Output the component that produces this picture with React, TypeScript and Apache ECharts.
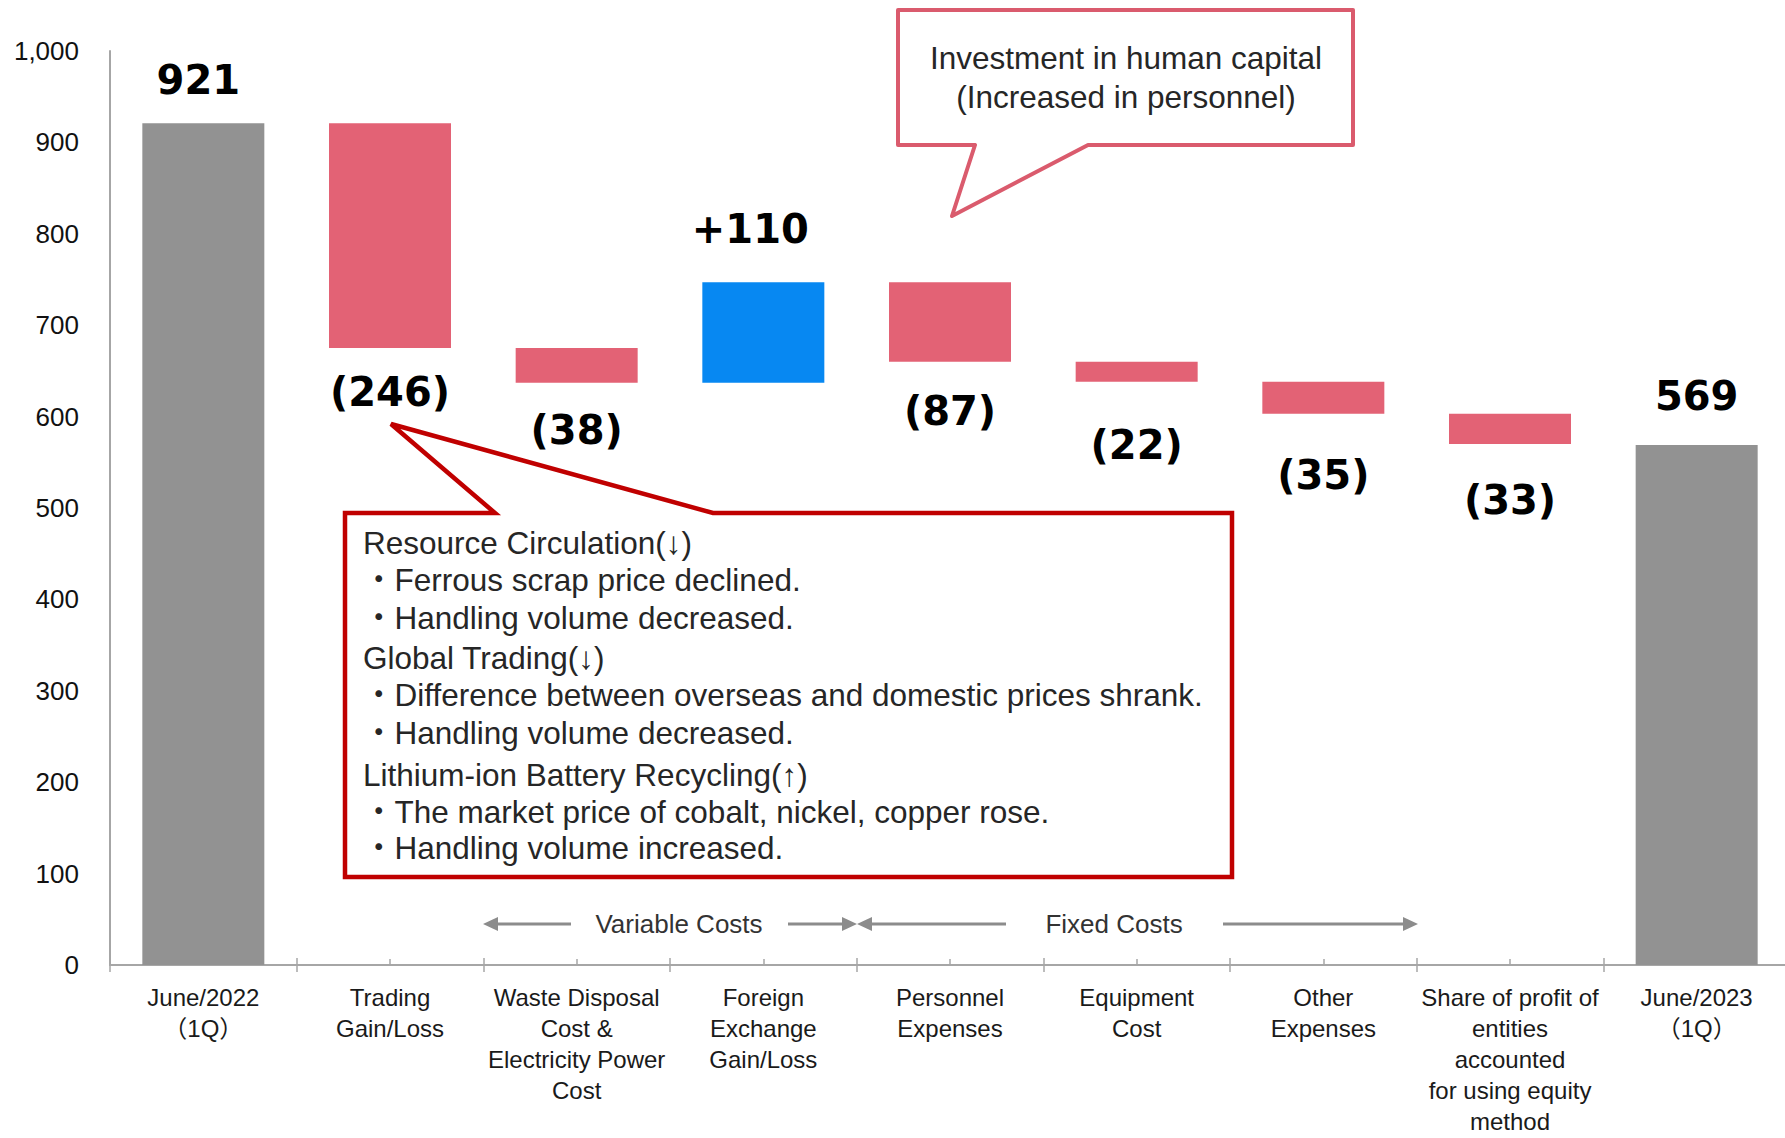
import React, { useEffect, useRef } from "react";
import * as echarts from "echarts";

// ---------- data ----------
const CATEGORIES = [
  "June/2022\n（1Q）",
  "Trading\nGain/Loss",
  "Waste Disposal\nCost &\nElectricity Power\nCost",
  "Foreign\nExchange\nGain/Loss",
  "Personnel\nExpenses",
  "Equipment\nCost",
  "Other\nExpenses",
  "Share of profit of\nentities\naccounted\nfor using equity\nmethod",
  "June/2023\n（1Q）",
];
const START_VALUE = 921;
const CHANGES = [-246, -38, 110, -87, -22, -35, -33];
const END_VALUE = 569;
const Y_TICKS = [0, 100, 200, 300, 400, 500, 600, 700, 800, 900, 1000];

const BOX_LINES = [
  "Resource Circulation(↓)",
  "・Ferrous scrap price declined.",
  "・Handling volume decreased.",
  "Global Trading(↓)",
  "・Difference between overseas and domestic prices shrank.",
  "・Handling volume decreased.",
  "Lithium-ion Battery Recycling(↑)",
  "・The market price of cobalt, nickel, copper rose.",
  "・Handling volume increased.",
];
const CALLOUT_LINES = ["Investment in human capital", "(Increased in personnel)"];

// ---------- styles ----------
const FONT = '"Liberation Sans", Arial, "Noto Sans CJK JP", sans-serif';
const BOLD_FONT = '"DejaVu Sans", Verdana, sans-serif';
const GREY = "#929292";
const RED = "#E36275";
const BLUE = "#0788F2";
const AXIS = "#a6a6a6";
const LABEL_DIST = [23, 24, 27, 33, 29, 43, 41, 36, 29];
const LABEL_DX = [-5, 0, 0, -13, 0, 0, 0, 0, 0];
const BOX_LINE_Y = [543, 580, 618, 658, 695, 733, 775, 812, 848];

function buildSeries() {
  const base: number[] = [0];
  const items: any[] = [];
  const mk = (i: number, v: number, color: string, pos: string, text: string) => ({
    value: v,
    itemStyle: { color },
    label: {
      show: true,
      position: pos,
      distance: LABEL_DIST[i],
      offset: [LABEL_DX[i], 0],
      formatter: text,
    },
  });
  items.push(mk(0, START_VALUE, GREY, "top", String(START_VALUE)));
  let run = START_VALUE;
  CHANGES.forEach((d, k) => {
    const i = k + 1;
    if (d < 0) {
      base.push(run + d);
      items.push(mk(i, -d, RED, "bottom", `(${-d})`));
    } else {
      base.push(run);
      items.push(mk(i, d, BLUE, "top", `+${d}`));
    }
    run += d;
  });
  base.push(0);
  items.push(mk(CATEGORIES.length - 1, END_VALUE, GREY, "top", String(END_VALUE)));
  return { base, items };
}

function arrowHead(tipX: number, y: number, dir: number) {
  return {
    type: "polygon",
    shape: { points: [[tipX, y], [tipX - dir * 15, y - 7], [tipX - dir * 15, y + 7]] },
    style: { fill: "#8c8c8c" },
    z: 100,
  };
}
function hLine(x1: number, x2: number, y: number) {
  return {
    type: "line",
    shape: { x1, y1: y, x2, y2: y },
    style: { stroke: "#8c8c8c", lineWidth: 3 },
    z: 100,
  };
}
function txt(text: string, x: number, y: number, size: number, align: string, color: string) {
  return {
    type: "text",
    x,
    y,
    z: 110,
    style: {
      text,
      fontSize: size,
      fontFamily: FONT,
      fill: color,
      align,
      verticalAlign: "middle",
      textAlign: align,
      textVerticalAlign: "middle",
    },
  };
}

export default function App() {
  const ref = useRef<HTMLDivElement>(null);
  useEffect(() => {
    if (!ref.current) return;
    const chart = echarts.init(ref.current, null, { renderer: "svg" });
    const { base, items } = buildSeries();
    const tickStyle = { color: AXIS, width: 1.5 };
    const arrowY = 924;
    const graphic: any[] = [
      // lower callout
      {
        type: "polygon",
        shape: {
          points: [
            [345, 513], [495, 513], [391, 424], [713, 513],
            [1232, 513], [1232, 877], [345, 877],
          ],
        },
        style: { fill: "#fff", stroke: "#C00000", lineWidth: 4.5, lineJoin: "miter" },
        z: 100,
      },
      ...BOX_LINES.map((t, i) => txt(t, 363, BOX_LINE_Y[i], 31.5, "left", "#262626")),
      // upper callout
      {
        type: "polygon",
        shape: {
          points: [
            [898, 10], [1353, 10], [1353, 145], [1088, 145],
            [952, 216], [975, 145], [898, 145],
          ],
        },
        style: { fill: "#fff", stroke: "#DA5B6D", lineWidth: 4, lineJoin: "round" },
        z: 100,
      },
      txt(CALLOUT_LINES[0], 1126, 58, 31.5, "center", "#262626"),
      txt(CALLOUT_LINES[1], 1126, 97, 31.5, "center", "#262626"),
      // variable / fixed cost arrows
      arrowHead(483, arrowY, -1),
      hLine(496, 571, arrowY),
      txt("Variable Costs", 679, arrowY, 26, "center", "#333"),
      hLine(788, 844, arrowY),
      arrowHead(857, arrowY, 1),
      arrowHead(857, arrowY, -1),
      hLine(870, 1006, arrowY),
      txt("Fixed Costs", 1114, arrowY, 26, "center", "#333"),
      hLine(1223, 1405, arrowY),
      arrowHead(1418, arrowY, 1),
    ];
    chart.setOption({
      animation: false,
      grid: {
        left: 110,
        top: 51,
        width: 1680,
        height: 914,
        containLabel: false,
        outerBoundsMode: "none",
      },
      xAxis: [
        {
          type: "category",
          data: CATEGORIES,
          position: "bottom",
          axisLine: { show: true, lineStyle: { color: AXIS, width: 2 } },
          axisTick: { show: true, inside: false, length: 7, interval: 0, lineStyle: tickStyle },
          axisLabel: {
            interval: 0,
            fontSize: 24,
            lineHeight: 31,
            color: "#1a1a1a",
            margin: 17,
            fontFamily: FONT,
          },
        },
        {
          type: "category",
          data: CATEGORIES,
          position: "bottom",
          axisLine: { show: false },
          axisTick: { show: true, inside: true, length: 7, interval: 0, lineStyle: tickStyle },
          axisLabel: { show: false },
        },
        {
          type: "category",
          data: CATEGORIES,
          position: "bottom",
          axisLine: { show: false },
          axisTick: {
            show: true,
            inside: true,
            alignWithLabel: true,
            length: 6,
            interval: 0,
            lineStyle: tickStyle,
          },
          axisLabel: { show: false },
        },
      ],
      yAxis: {
        type: "value",
        min: Y_TICKS[0],
        max: Y_TICKS[Y_TICKS.length - 1],
        interval: Y_TICKS[1] - Y_TICKS[0],
        axisLine: { show: true, lineStyle: { color: AXIS, width: 2 } },
        axisTick: { show: false },
        splitLine: { show: false },
        axisLabel: {
          fontSize: 26,
          color: "#111",
          margin: 31,
          fontFamily: FONT,
          formatter: (v: number) => v.toLocaleString("en-US"),
        },
      },
      series: [
        {
          type: "bar",
          stack: "w",
          data: base,
          barWidth: 122,
          itemStyle: { color: "transparent" },
          silent: true,
        },
        {
          type: "bar",
          stack: "w",
          data: items,
          barWidth: 122,
          label: {
            show: true,
            fontSize: 40,
            fontWeight: "bold",
            fontFamily: BOLD_FONT,
            color: "#000",
          },
        },
      ],
      graphic,
    });
    return () => chart.dispose();
  }, []);
  return (
    <div
      style={{
        position: "fixed",
        left: 0,
        top: 0,
        width: 1785,
        height: 1138,
        overflow: "hidden",
        background: "#fff",
      }}
    >
      <div ref={ref} style={{ width: 1785, height: 1138 }} />
    </div>
  );
}
